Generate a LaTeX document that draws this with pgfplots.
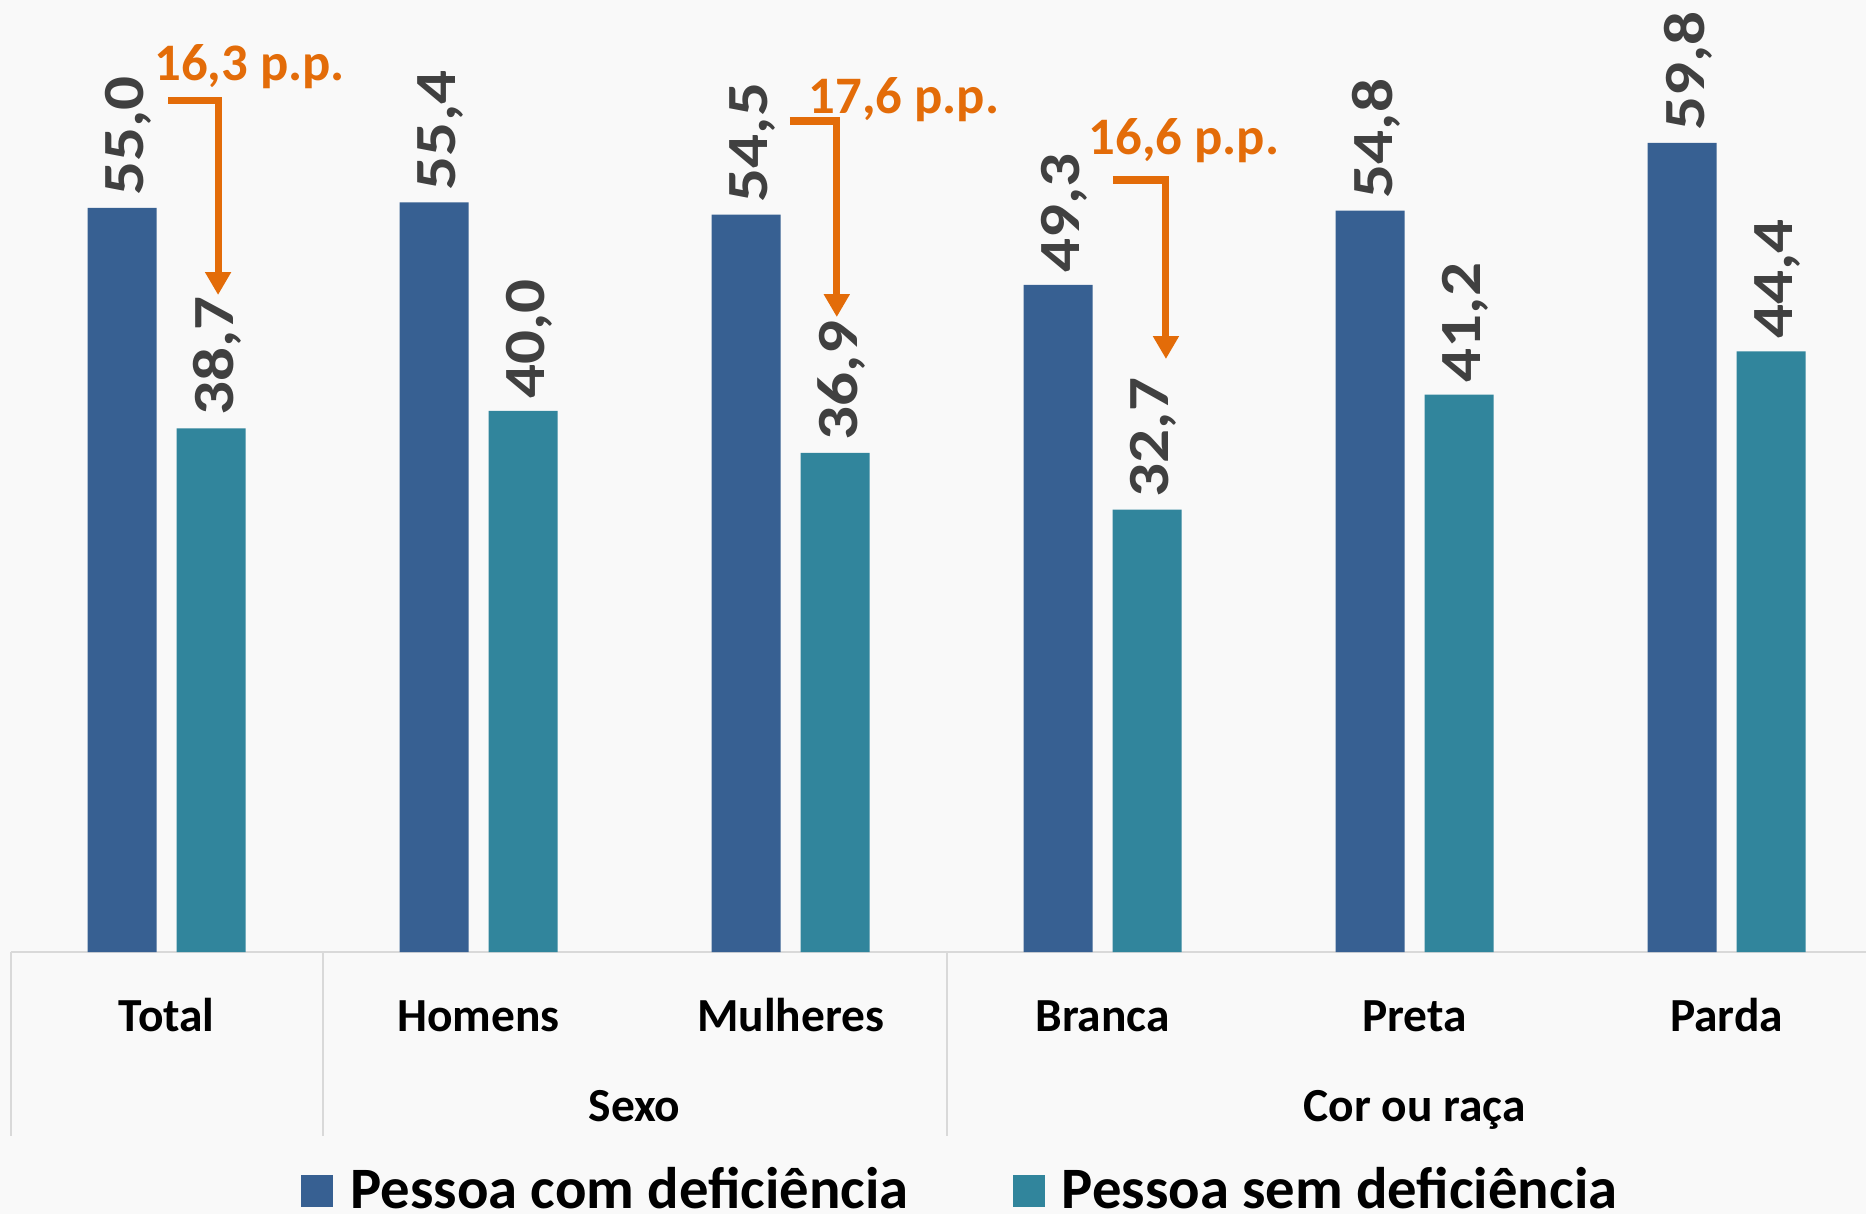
\documentclass[border=0pt]{standalone}
\usepackage{pgfplots}
\pgfplotsset{compat=1.18}
\usepackage{fontspec}
\setmainfont{Carlito}
\newfontfamily\valfam{Carlito}[FakeStretch=1.15]
\usetikzlibrary{arrows.meta}

\definecolor{barblue}{HTML}{376092}
\definecolor{barteal}{HTML}{31859C}
\definecolor{valgray}{HTML}{404040}
\definecolor{pporange}{HTML}{E36C09}
\definecolor{linegray}{HTML}{D9D9D9}
\definecolor{figbg}{HTML}{F9F9F9}

\newcommand{\valfont}{\valfam\fontsize{16.6}{20}\selectfont\bfseries}
\newcommand{\catfont}{\fontsize{13.5}{16}\selectfont\bfseries}
\newcommand{\ppfont}{\fontsize{15}{18}\selectfont\bfseries}

\begin{document}
\begin{tikzpicture}
\fill[figbg] (-1.666cm,-2.62cm) rectangle (16.994cm,9.52cm);
\useasboundingbox (-1.666cm,-2.62cm) rectangle (16.994cm,9.52cm);
\begin{axis}[
    at={(0,0)}, anchor=origin,
    x=3.12cm, y=0.1353cm,
    xmin=-0.5, xmax=5.45,
    ymin=0, ymax=65,
    clip=false,
    axis x line*=bottom,
    axis y line=none,
    axis line style={draw=linegray, line width=0.8pt},
    xtick={0,1,2,3,4,5},
    xticklabels={Total,Homens,Mulheres,Branca,Preta,Parda},
    major tick length=0pt,
    xticklabel style={font=\catfont, anchor=base, yshift=-0.79cm},
    ytick=\empty,
    nodes near coords={\pgfmathprintnumber[fixed,fixed zerofill,precision=1,use comma,assume math mode=true]{\pgfplotspointmeta}},
    legend columns=2,
    legend style={at={(axis description cs:0.5130,-0.2715)}, anchor=center,
        draw=none, fill=none, font=\fontsize{16.7}{20}\selectfont\bfseries,
        /tikz/every odd column/.append style={column sep=0.1cm},
        /tikz/every even column/.append style={column sep=0.97cm}},
]
\addplot[ybar, bar width=0.221, bar shift=-0.1425, fill=barblue, draw=none,
    every node near coord/.style={xshift=-0.385cm, rotate=90, anchor=west,
        font=\valfont, text=valgray},
    legend image code/.code={\fill[barblue] (0cm,-0.16cm) rectangle (0.32cm,0.16cm);}]
    coordinates {(0,55.0) (1,55.4) (2,54.5) (3,49.3) (4,54.8) (5,59.8)};
\addlegendentry{Pessoa com deficiência}
\addplot[ybar, bar width=0.221, bar shift=0.1425, fill=barteal, draw=none,
    every node near coord/.style={xshift=0.505cm, rotate=90, anchor=west,
        font=\valfont, text=valgray},
    legend image code/.code={\fill[barteal] (0cm,-0.16cm) rectangle (0.32cm,0.16cm);}]
    coordinates {(0,38.7) (1,40.0) (2,36.9) (3,32.7) (4,41.2) (5,44.4)};
\addlegendentry{Pessoa sem deficiência}

% separadores das categorias
\draw[linegray, line width=0.6pt] (axis cs:-0.5,0) -- (axis cs:-0.5,-13.6);
\draw[linegray, line width=0.6pt] (axis cs:0.5,0) -- (axis cs:0.5,-13.6);
\draw[linegray, line width=0.6pt] (axis cs:2.5,0) -- (axis cs:2.5,-13.6);
\node[font=\catfont, anchor=base] at (axis cs:1.5,-12.56) {Sexo};
\node[font=\catfont, anchor=base] at (axis cs:4,-12.56) {Cor ou raça};

% diferencas em p.p.
\draw[pporange, line width=2pt, -{Triangle[width=7pt,length=6.5pt]}]
    (axis cs:0.005,62.97) -- (axis cs:0.165,62.97) -- (axis cs:0.165,48.56);
\draw[pporange, line width=2pt, -{Triangle[width=7pt,length=6.5pt]}]
    (axis cs:1.998,61.42) -- (axis cs:2.148,61.42) -- (axis cs:2.148,46.93);
\draw[pporange, line width=2pt, -{Triangle[width=7pt,length=6.5pt]}]
    (axis cs:3.033,57.06) -- (axis cs:3.203,57.06) -- (axis cs:3.203,43.83);
\node[font=\ppfont, text=pporange, anchor=base west, inner sep=0pt]
    at (axis cs:-0.041,64.45) {16,3 p.p.};
\node[font=\ppfont, text=pporange, anchor=base west, inner sep=0pt]
    at (axis cs:2.056,62.01) {17,6 p.p.};
\node[font=\ppfont, text=pporange, anchor=base west, inner sep=0pt]
    at (axis cs:2.953,58.91) {16,6 p.p.};
\end{axis}
\end{tikzpicture}
\end{document}
